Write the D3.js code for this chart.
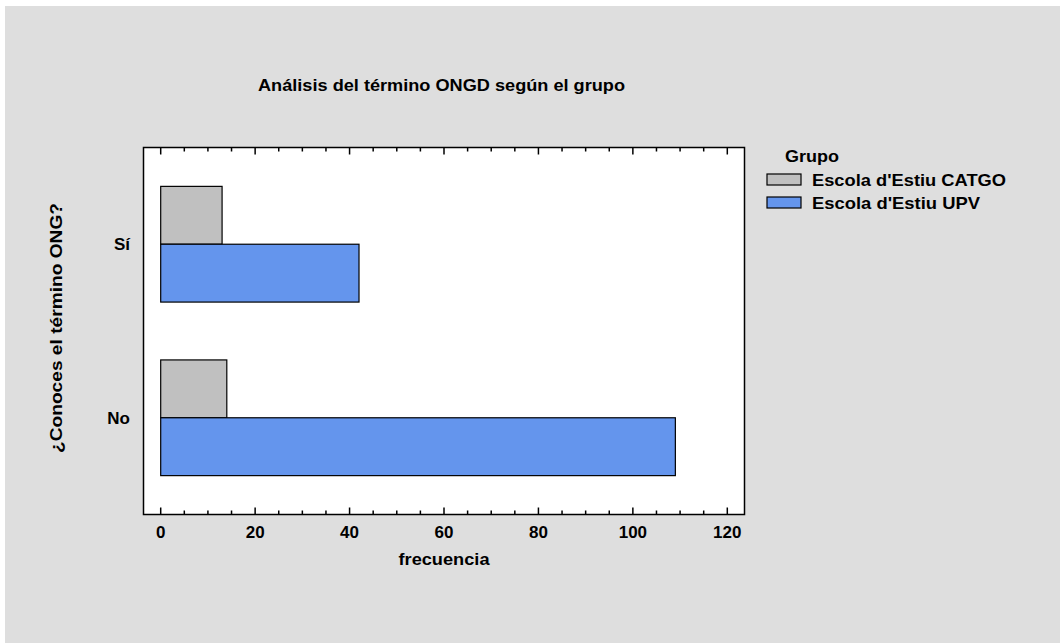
<!DOCTYPE html>
<html><head><meta charset="utf-8">
<script src="https://cdn.jsdelivr.net/npm/d3@7"></script>
<style>
html,body{margin:0;padding:0;background:#fff;}
svg{display:block;}
text{font-family:"Liberation Sans",Arial,sans-serif;font-weight:bold;fill:#000;}
</style></head>
<body>
<script>
const categories = ["Sí", "No"];
const groups = ["Escola d'Estiu CATGO", "Escola d'Estiu UPV"];
const catgoValues = [13, 14];
const upvValues = [42, 109];
const xTicks = [0, 20, 40, 60, 80, 100, 120];
const colors = ["#c0c0c0", "#6495ed"];

const W = 1060, H = 643;
const svg = d3.select("body").append("svg").attr("width", W).attr("height", H);
svg.append("rect").attr("x", 5).attr("y", 6).attr("width", W - 5).attr("height", H - 6).attr("fill", "#dedede");

const frame = {l: 143.5, r: 744.5, t: 147.5, b: 514.5};
const x = d3.scaleLinear().domain([0, 120]).range([160.7, 727.3]);
const y = d3.scaleBand().domain(categories).range([frame.t, frame.b]).paddingInner(1/3).paddingOuter(0.224);
const sub = d3.scaleBand().domain(groups).range([0, y.bandwidth()]);

svg.append("rect").attr("x", frame.l).attr("y", frame.t).attr("width", frame.r - frame.l).attr("height", frame.b - frame.t)
  .attr("fill", "#fff").attr("stroke", "#000").attr("stroke-width", 1.5);

const series = [catgoValues, upvValues];
series.forEach((vals, gi) => {
  svg.append("g").selectAll("rect").data(categories).join("rect")
    .attr("x", x(0))
    .attr("y", c => y(c) + sub(groups[gi]))
    .attr("width", (c, i) => x(vals[i]) - x(0))
    .attr("height", sub.bandwidth())
    .attr("fill", colors[gi]).attr("stroke", "#000").attr("stroke-width", 1.2);
});

// ticks bottom and top (inward)
const minor = d3.range(0, 121, 5);
const gT = svg.append("g").attr("stroke", "#000").attr("stroke-width", 1.5);
minor.forEach(v => {
  const len = v % 20 === 0 ? 7 : 4;
  gT.append("line").attr("x1", x(v)).attr("x2", x(v)).attr("y1", frame.b).attr("y2", frame.b - len);
  gT.append("line").attr("x1", x(v)).attr("x2", x(v)).attr("y1", frame.t).attr("y2", frame.t + len);
});

svg.append("g").selectAll("text").data(xTicks).join("text")
  .attr("x", d => x(d)).attr("y", 538).attr("text-anchor", "middle")
  .style("font-size", "17px").text(d => d);

svg.append("g").selectAll("text").data(categories).join("text")
  .attr("x", 130).attr("y", d => y(d) + y.bandwidth() / 2 + 6).attr("text-anchor", "end")
  .style("font-size", "17px").text(d => d);

const fit = "spacingAndGlyphs";
svg.append("text").attr("x", 444).attr("y", 565).attr("text-anchor", "middle").style("font-size", "17px")
  .attr("textLength", 91).attr("lengthAdjust", fit).text("frecuencia");
svg.append("text").attr("transform", "translate(62,328) rotate(-90)").attr("text-anchor", "middle").style("font-size", "17px")
  .attr("textLength", 250).attr("lengthAdjust", fit).text("¿Conoces el término ONG?");
svg.append("text").attr("x", 441.5).attr("y", 91).attr("text-anchor", "middle").style("font-size", "17px")
  .attr("textLength", 367).attr("lengthAdjust", fit).text("Análisis del término ONGD según el grupo");

// legend
svg.append("text").attr("x", 785).attr("y", 162).style("font-size", "17px")
  .attr("textLength", 54).attr("lengthAdjust", fit).text("Grupo");
const legLen = [194, 168];
const leg = svg.append("g").selectAll("g").data(groups).join("g")
  .attr("transform", (d, i) => `translate(767,${174 + i * 23})`);
leg.append("rect").attr("width", 34).attr("height", 11).attr("fill", (d, i) => colors[i]).attr("stroke", "#000").attr("stroke-width", 1.2);
leg.append("text").attr("x", 45).attr("y", 11.5).style("font-size", "17px")
  .attr("textLength", (d, i) => legLen[i]).attr("lengthAdjust", fit).text(d => d);
</script>
</body></html>
